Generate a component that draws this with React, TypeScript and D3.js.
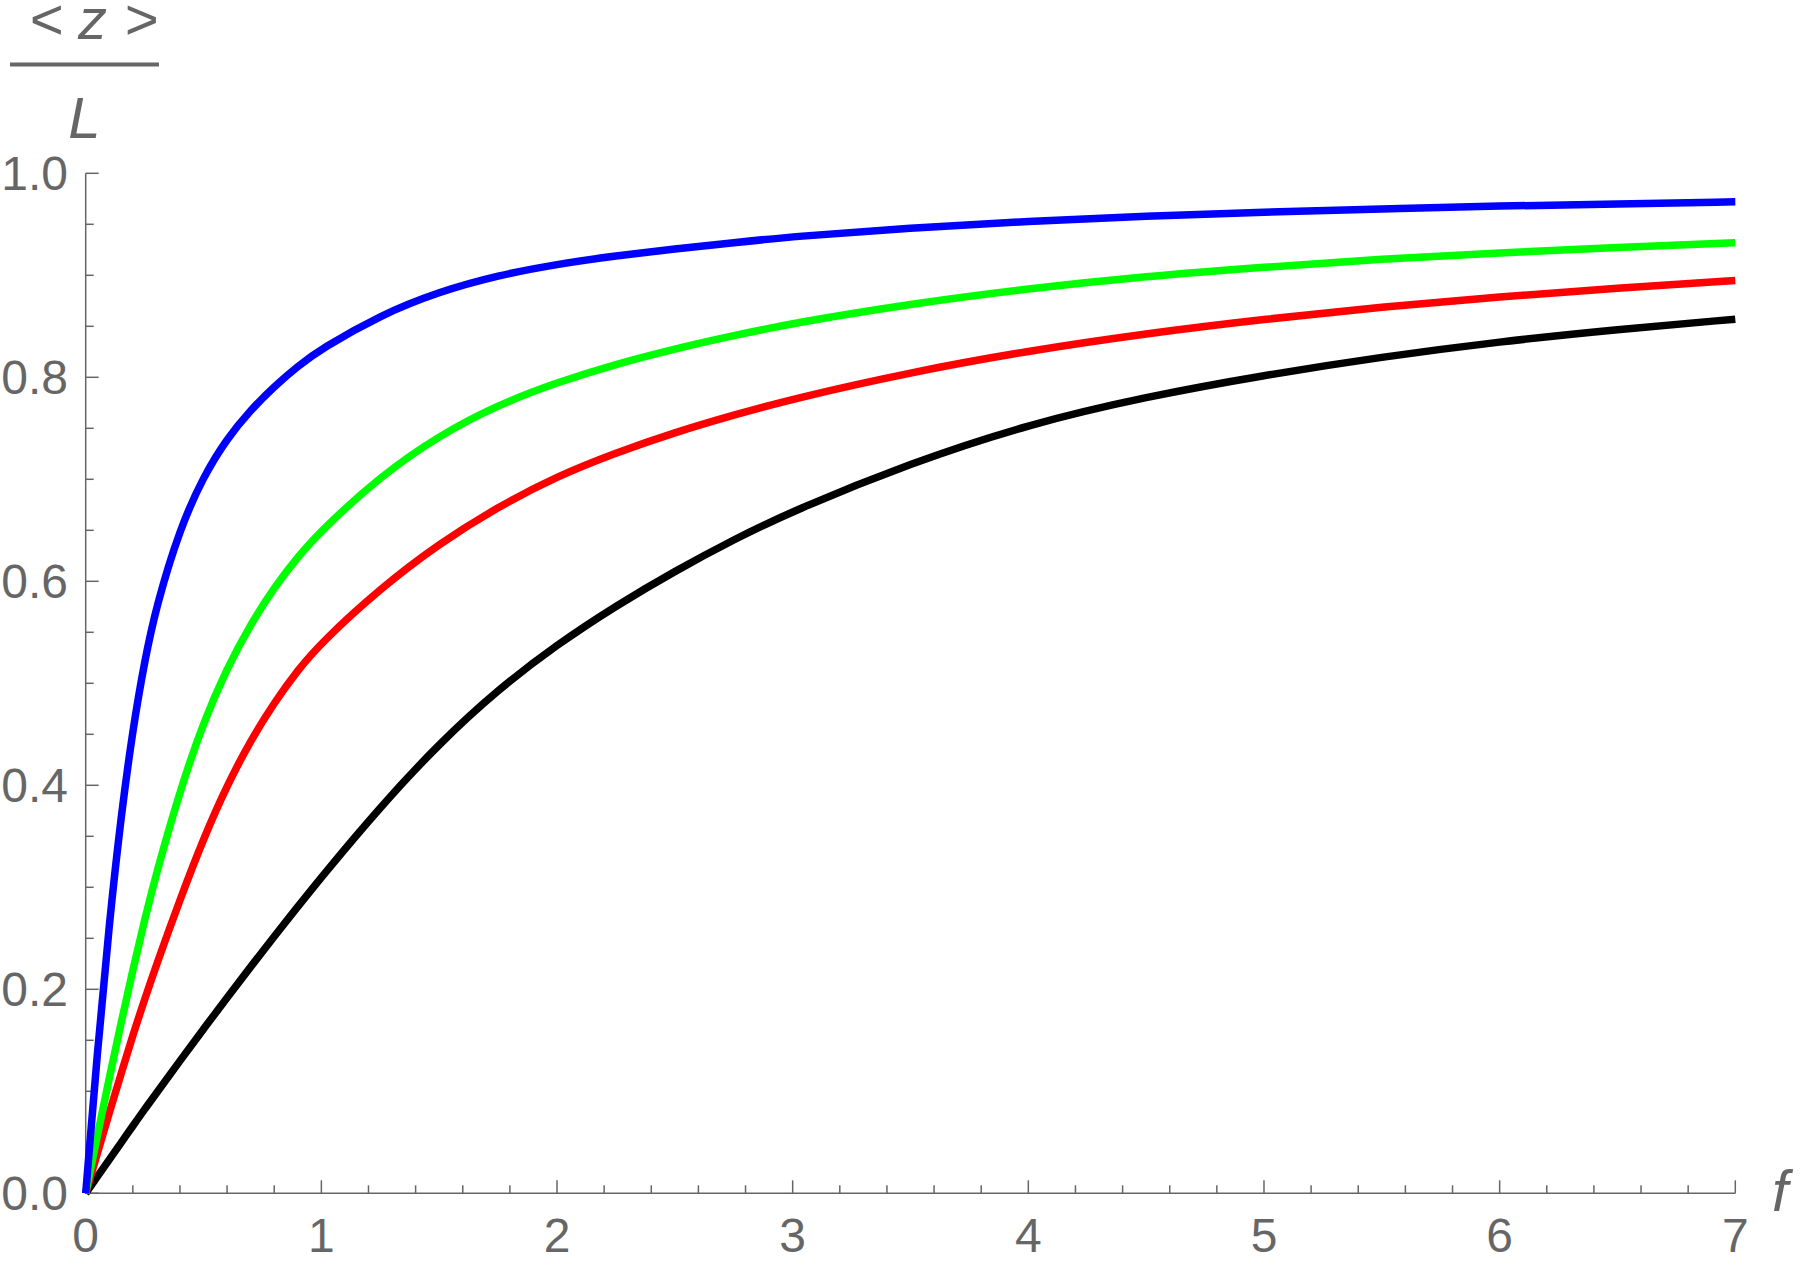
import React from "react";
import * as d3 from "d3";

const fValues = [0, 0.05, 0.1, 0.15, 0.2, 0.25, 0.3, 0.4, 0.5, 0.6, 0.7, 0.8, 0.9, 1, 1.25, 1.5, 1.75, 2, 2.25, 2.5, 2.75, 3, 3.5, 4, 4.5, 5, 5.5, 6, 6.5, 7];
const blueValues = [0, 0.14, 0.265, 0.37, 0.455, 0.522, 0.576, 0.652, 0.703, 0.74, 0.768, 0.791, 0.811, 0.828, 0.861, 0.884, 0.9, 0.911, 0.919, 0.926, 0.932, 0.938, 0.9465, 0.953, 0.958, 0.962, 0.965, 0.968, 0.970, 0.972];
const greenValues = [0, 0.057, 0.113, 0.167, 0.219, 0.268, 0.314, 0.395, 0.462, 0.515, 0.558, 0.594, 0.624, 0.65, 0.703, 0.743, 0.773, 0.795, 0.813, 0.828, 0.841, 0.853, 0.872, 0.887, 0.899, 0.908, 0.916, 0.922, 0.9275, 0.932];
const redValues = [0, 0.0395, 0.079, 0.117, 0.155, 0.19, 0.224, 0.288, 0.348, 0.4, 0.444, 0.481, 0.513, 0.54, 0.593, 0.637, 0.673, 0.703, 0.726, 0.746, 0.763, 0.779, 0.805, 0.826, 0.843, 0.857, 0.869, 0.879, 0.8875, 0.895];
const blackValues = [0, 0.0165, 0.033, 0.0495, 0.066, 0.0825, 0.098, 0.13, 0.161, 0.192, 0.222, 0.252, 0.281, 0.31, 0.379, 0.441, 0.494, 0.538, 0.576, 0.61, 0.641, 0.669, 0.716, 0.754, 0.781, 0.802, 0.82, 0.835, 0.847, 0.857];

const seriesNames = ["black", "red", "green", "blue"];
const seriesColors = ["#000000", "#ff0000", "#00ff00", "#0000ff"];
const seriesData = [blackValues, redValues, greenValues, blueValues];

const xTickLabels = ["0", "1", "2", "3", "4", "5", "6", "7"];
const yTickLabels = ["0.0", "0.2", "0.4", "0.6", "0.8", "1.0"];

const W = 1800;
const H = 1265;
const GRAY = "#666666";
const FONT = "'Liberation Sans', Arial, sans-serif";

export default function App() {
  const x = d3.scaleLinear().domain([0, 7]).range([85.7, 1735.3]);
  const y = d3.scaleLinear().domain([0, 1]).range([1193.3, 173.3]);

  const line = d3
    .line<[number, number]>()
    .x((d) => x(d[0]))
    .y((d) => y(d[1]))
    .curve(d3.curveBasis);

  const xMinor = d3.range(0, 7.0001, 0.2).filter((v) => Math.abs(v - Math.round(v)) > 1e-6);
  const xMajor = d3.range(0, 8, 1);
  const yMinor = d3.range(0, 1.0001, 0.05).filter((v) => Math.abs(v / 0.2 - Math.round(v / 0.2)) > 1e-6);
  const yMajor = yTickLabels.map((t) => +t);

  return (
    <svg
      width={W}
      height={H}
      style={{ position: "absolute", left: 0, top: 0, background: "#fff" }}
      xmlns="http://www.w3.org/2000/svg"
    >
      <rect x={0} y={0} width={W} height={H} fill="#fff" />
      {/* axes */}
      <line x1={x(0)} x2={x(7)} y1={y(0)} y2={y(0)} stroke={GRAY} strokeWidth={1.5} />
      <line x1={x(0)} x2={x(0)} y1={y(0)} y2={y(1)} stroke={GRAY} strokeWidth={1.5} />
      {xMajor.map((v) => (
        <line key={"xM" + v} x1={x(v)} x2={x(v)} y1={y(0)} y2={y(0) - 13} stroke={GRAY} strokeWidth={1.5} />
      ))}
      {xMinor.map((v, i) => (
        <line key={"xm" + i} x1={x(v)} x2={x(v)} y1={y(0)} y2={y(0) - 8} stroke={GRAY} strokeWidth={1.5} />
      ))}
      {yMajor.map((v) => (
        <line key={"yM" + v} x1={x(0)} x2={x(0) + 13} y1={y(v)} y2={y(v)} stroke={GRAY} strokeWidth={1.5} />
      ))}
      {yMinor.map((v, i) => (
        <line key={"ym" + i} x1={x(0)} x2={x(0) + 8} y1={y(v)} y2={y(v)} stroke={GRAY} strokeWidth={1.5} />
      ))}
      {/* tick labels */}
      {xTickLabels.map((t) => (
        <text key={"xl" + t} x={x(+t)} y={1252} textAnchor="middle" fontFamily={FONT} fontSize={48} fill={GRAY}>
          {t}
        </text>
      ))}
      {yTickLabels.map((t) => (
        <text key={"yl" + t} x={68} y={y(+t) + 17} textAnchor="end" fontFamily={FONT} fontSize={48} fill={GRAY}>
          {t}
        </text>
      ))}
      {/* curves */}
      {seriesData.map((vals, si) => (
        <path
          key={seriesNames[si]}
          d={line(fValues.map((f, i) => [f, vals[i]] as [number, number])) || ""}
          fill="none"
          stroke={seriesColors[si]}
          strokeWidth={7.5}
          strokeLinejoin="round"
        />
      ))}
      {/* axis labels */}
      <text x={1772} y={1211} fontFamily={FONT} fontStyle="italic" fontSize={58} fill={GRAY}>
        f
      </text>
      <text x={29} y={39} fontFamily={FONT} fontStyle="italic" fontSize={58} fill={GRAY}>
        {"<"}
      </text>
      <text x={78} y={39} fontFamily={FONT} fontStyle="italic" fontSize={58} fill={GRAY}>
        {"z"}
      </text>
      <text x={124} y={39} fontFamily={FONT} fontStyle="italic" fontSize={58} fill={GRAY}>
        {">"}
      </text>
      <line x1={10} x2={159} y1={64.5} y2={64.5} stroke={GRAY} strokeWidth={4} />
      <text x={84.5} y={138} textAnchor="middle" fontFamily={FONT} fontStyle="italic" fontSize={58} fill={GRAY}>
        L
      </text>
    </svg>
  );
}
